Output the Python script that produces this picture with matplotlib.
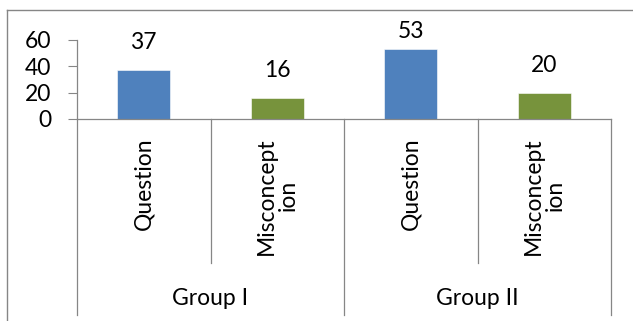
import matplotlib
matplotlib.use("Agg")
import matplotlib.pyplot as plt
from matplotlib.lines import Line2D

plt.rcParams['font.family'] = ['Lato', 'DejaVu Sans']

# Data
groups = ["Group I", "Group II"]
sub_labels = ["Question", "Misconcept\nion", "Question", "Misconcept\nion"]
values = [37, 16, 53, 20]
bar_colors = ["#4F81BD", "#77933C", "#4F81BD", "#77933C"]
y_ticks = [0, 20, 40, 60]

W, H = 633, 321
fig = plt.figure(figsize=(W / 100, H / 100), dpi=100)
fig.patch.set_facecolor("white")

# plot area in pixel coordinates
x0, x1 = 77, 611
y_top, y_zero = 40, 119
ax = fig.add_axes([x0 / W, 1 - y_zero / H, (x1 - x0) / W, (y_zero - y_top) / H])
ax.set_facecolor("none")

grey = "#868686"
fs = 16.5

x = list(range(len(values)))
ax.bar(x, values, width=0.4, color=bar_colors, edgecolor="#ffffff", linewidth=0.4, zorder=2)

ax.set_xlim(-0.5, len(values) - 0.5)
ax.set_ylim(0, 60)
ax.set_yticks(y_ticks)
ax.set_yticklabels([str(t) for t in y_ticks], fontsize=fs)
ax.tick_params(axis="y", direction="out", length=6.5, width=0.8, color=grey, pad=12)
ax.set_xticks([])

for s in ["top", "right"]:
    ax.spines[s].set_visible(False)
ax.spines["left"].set_color(grey)
ax.spines["bottom"].set_color(grey)
ax.spines["left"].set_linewidth(0.9)
ax.spines["bottom"].set_linewidth(0.9)

# value labels above the bars
for xi, v in zip(x, values):
    ly = min(v + 21, 66.5)
    ax.text(xi, ly, str(v), ha="center", va="center", fontsize=fs, clip_on=False)

axis_h = y_zero - y_top
xt = ax.get_xaxis_transform()

# category separators under the axis
inner_depth = -(263 - y_zero) / axis_h
outer_depth = -(315 - y_zero) / axis_h
for b in [-0.5, 1.5, 3.5]:
    ax.add_line(Line2D([b, b], [0, outer_depth], transform=xt, color=grey,
                       linewidth=0.9, clip_on=False))
for b in [0.5, 2.5]:
    ax.add_line(Line2D([b, b], [0, inner_depth], transform=xt, color=grey,
                       linewidth=0.9, clip_on=False))

# rotated sub-category labels
label_top = -(137 - y_zero) / axis_h
for xi, lab in zip(x, sub_labels):
    ax.text(xi, label_top, lab, rotation=90, ha="center", va="top",
            multialignment="center", fontsize=fs, transform=xt,
            linespacing=1.1)

# group labels
group_y = -(298 - y_zero) / axis_h
for gi, g in enumerate(groups):
    ax.text(2 * gi + 0.5, group_y, g, ha="center", va="center",
            fontsize=fs, transform=xt)

# chart frame (top and left edges)
fig.add_artist(Line2D([7 / W, 1], [1 - 10 / H, 1 - 10 / H], transform=fig.transFigure,
                      color=grey, linewidth=1.0))
fig.add_artist(Line2D([7 / W, 7 / W], [1 - 10 / H, 0], transform=fig.transFigure,
                      color=grey, linewidth=1.0))

fig.savefig("out.png", dpi=100)
